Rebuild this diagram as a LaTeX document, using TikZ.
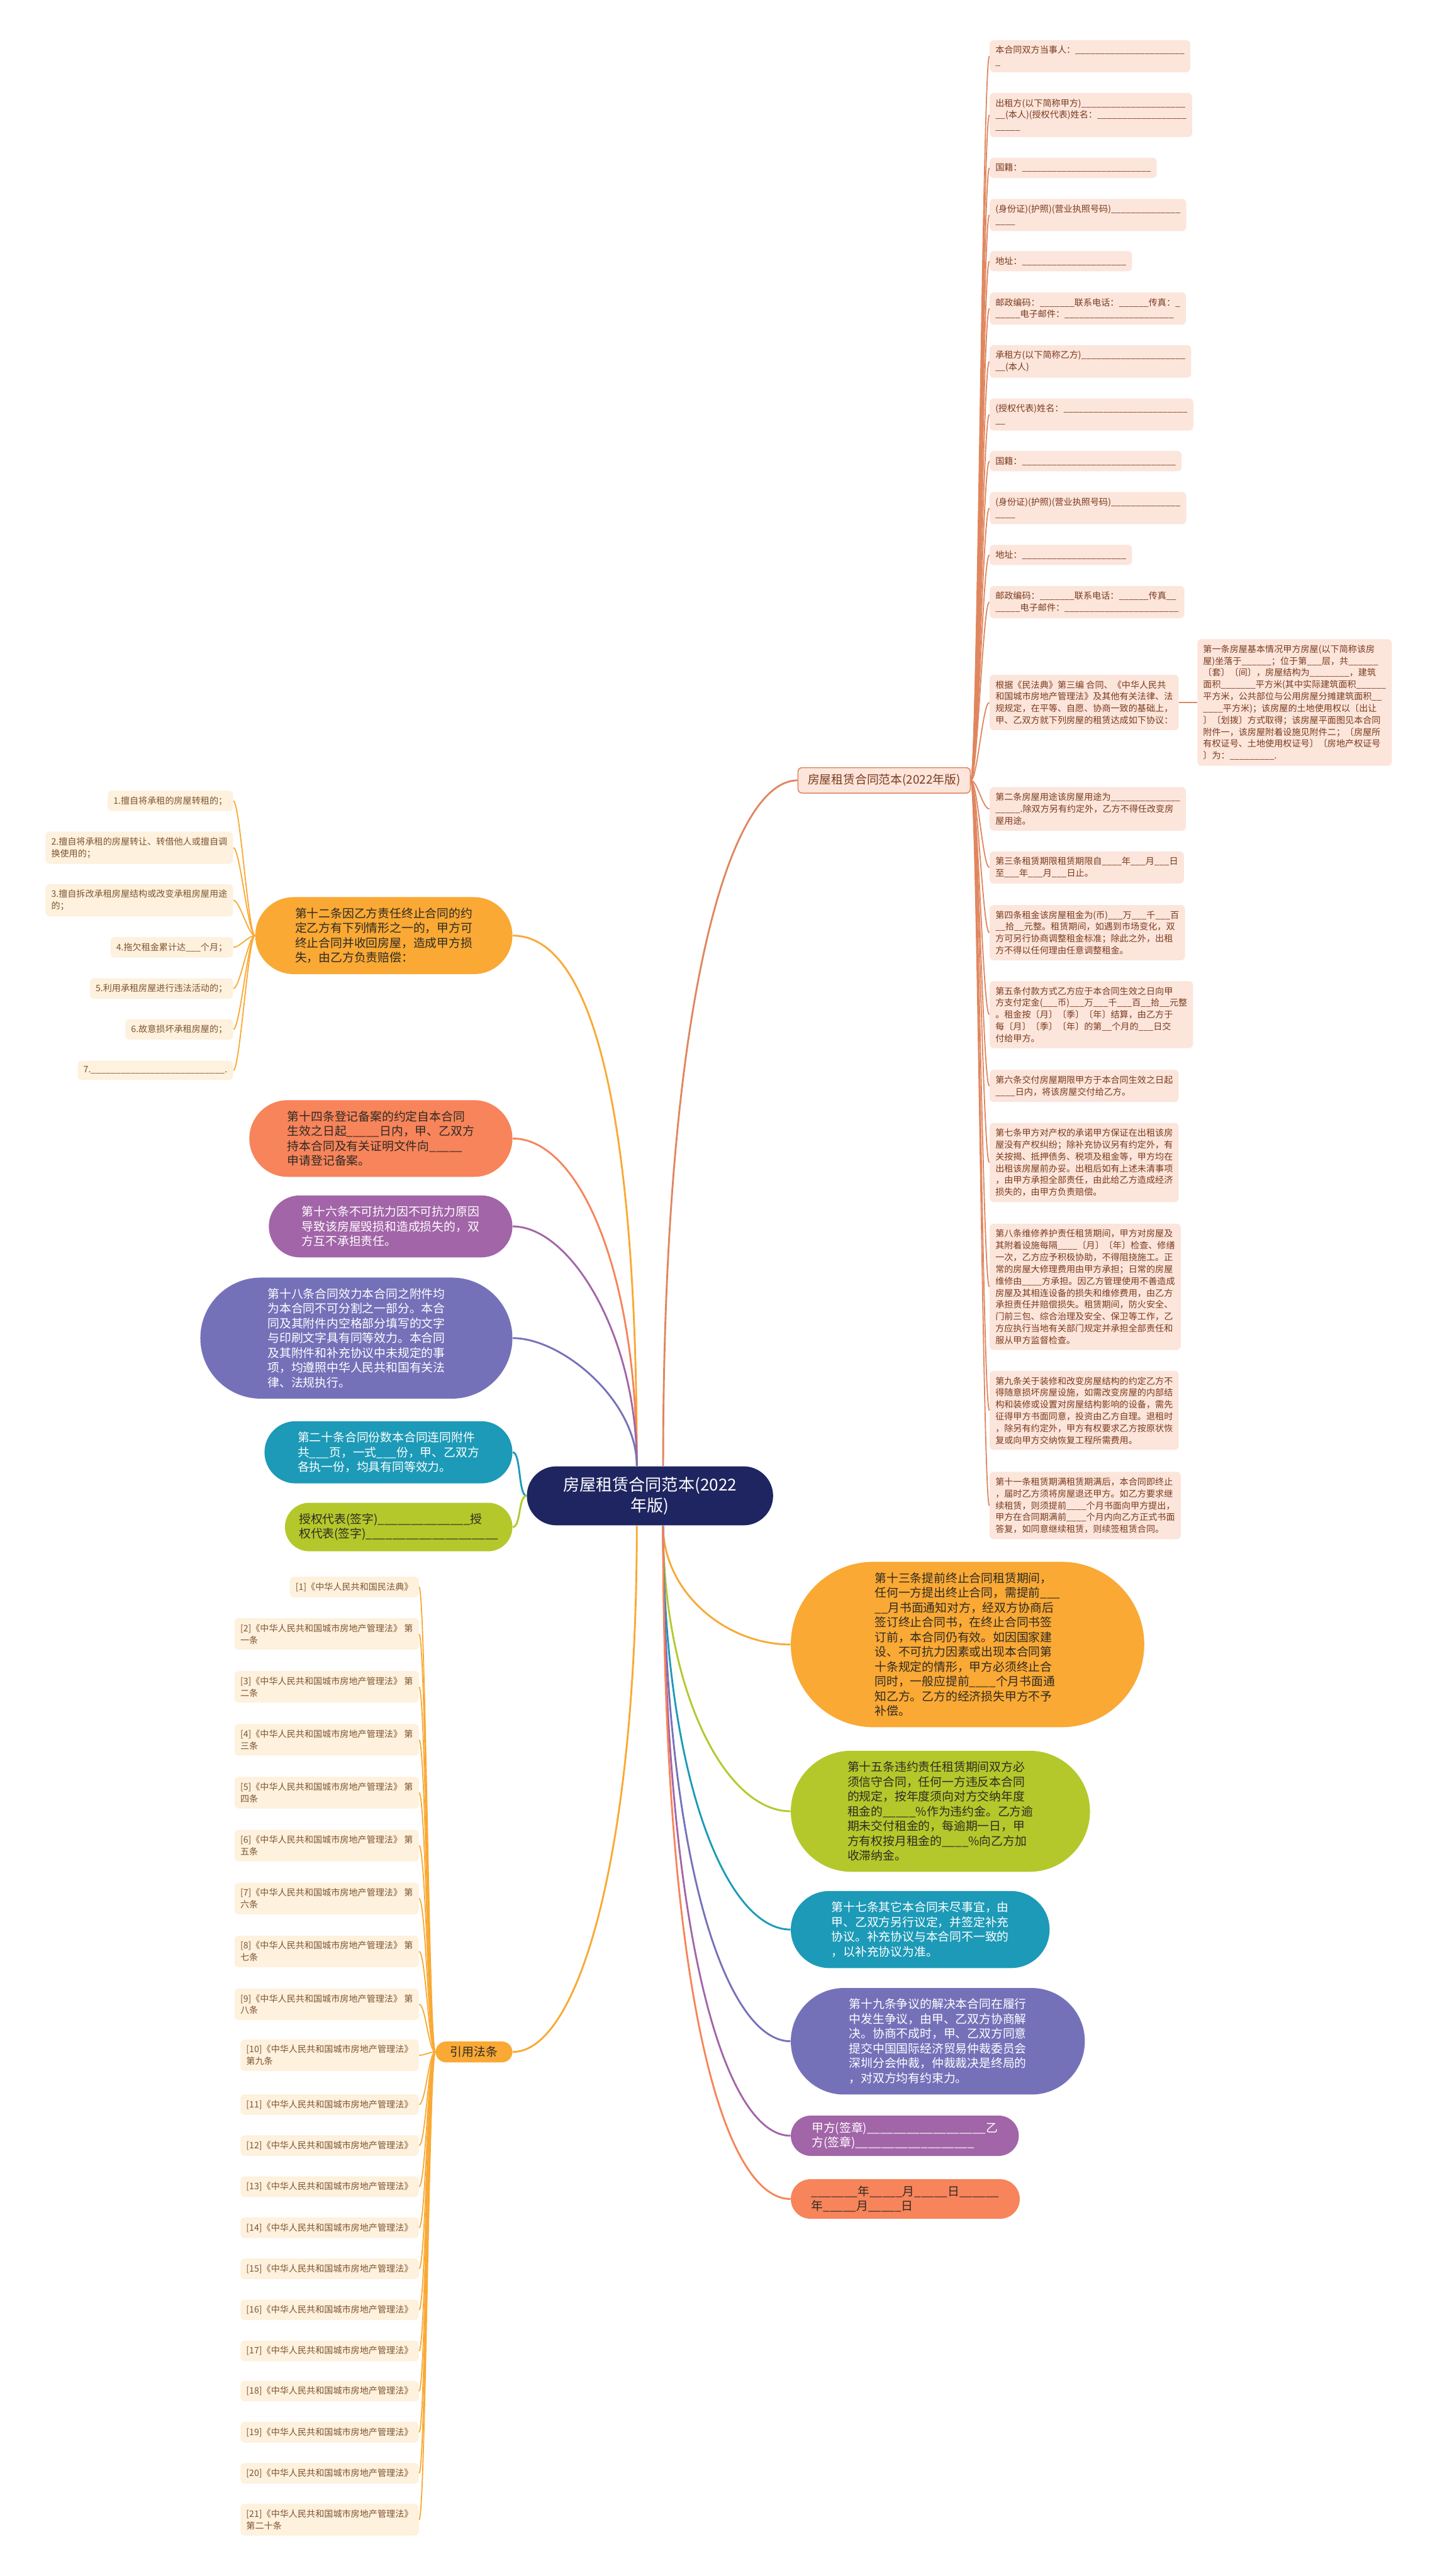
\documentclass[tikz,border=0pt]{standalone}
\usepackage{fontspec}
\setmainfont{Noto Sans CJK SC}
\usetikzlibrary{positioning, shapes.misc}

\definecolor{hub}{HTML}{1F2560}
\definecolor{amber}{HTML}{F9A934}
\definecolor{coral}{HTML}{F7845A}
\definecolor{plum}{HTML}{A265A8}
\definecolor{slate}{HTML}{7571B9}
\definecolor{cteal}{HTML}{1C9AB7}
\definecolor{lime}{HTML}{B4C82B}
\definecolor{rust}{HTML}{E0865F}
\definecolor{ink}{HTML}{2E2A25}
\definecolor{leafbg}{HTML}{FCE5DB}
\definecolor{leaftx}{HTML}{7A3B1F}
\definecolor{refbg}{HTML}{FEF1DD}
\definecolor{reftx}{HTML}{7D5431}

\newcommand\fsleaf{\fontsize{5.4}{7.2}\selectfont}
\newcommand\fsmid{\fontsize{7.2}{8.6}\selectfont}
\newcommand\fsbig{\fontsize{7.2}{9}\selectfont}
\newcommand\fshub{\fontsize{10}{12.5}\selectfont}
\newcommand\blank[1]{\foreach\k in {1,...,#1}{\_}}

\begin{document}
\begin{tikzpicture}[x=1pt, y=-1pt,
  leaf/.style={fill=leafbg, text=leaftx, font=\fsleaf, align=left,
    rounded corners=2.5pt, inner sep=3.5pt, anchor=west},
  cite/.style={leaf, fill=refbg, text=reftx, anchor=east},
  topic/.style={rounded rectangle, font=\fsbig, align=left,
    inner xsep=15pt, inner ysep=6.5pt},
  bough/.style={line width=1.1pt},
  twig/.style={line width=0.7pt, draw=#1, out=0, in=180, max distance=4pt},
  twigl/.style={line width=0.7pt, draw=#1, out=180, in=0, max distance=4pt}]

\fill[white] (0,0) rectangle (873,1568);

% 中心主题
\node[topic, fill=hub, text=white, font=\fshub, align=center, inner xsep=18pt] (root) at (395.5,910.5)
  {房屋租赁合同范本(2022\\年版)};

% 右上: 合同正文
\node[leaf, draw=rust, line width=0.6pt, font=\fsmid, inner xsep=6pt, inner ysep=4pt, anchor=center] (body) at (538,475)
  {房屋租赁合同范本(2022年版)};
\node[leaf] (b1) at (602,34.2) {本合同双方当事人：\blank{22}\\\_};
\node[leaf] (b2) at (602,70) {出租方(以下简称甲方)\blank{21}\\\blank{2}(本人)(授权代表)姓名：\blank{18}\\\blank{5}};
\node[leaf] (b3) at (602,102.2) {国籍：\blank{26}};
\node[leaf] (b4) at (602,130.9) {(身份证)(护照)(营业执照号码)\blank{14}\\\blank{4}};
\node[leaf] (b5) at (602,159) {地址：\blank{21}};
\node[leaf] (b6) at (602,187.8) {邮政编码：\blank{7}联系电话：\blank{6}传真：\_\\\blank{5}电子邮件：\blank{22}};
\node[leaf] (b7) at (602,220) {承租方(以下简称乙方)\blank{21}\\\blank{2}(本人)};
\node[leaf] (b8) at (602,252.3) {(授权代表)姓名：\blank{25}\\\blank{2}};
\node[leaf] (b9) at (602,280.7) {国籍：\blank{31}};
\node[leaf] (b10) at (602,309.3) {(身份证)(护照)(营业执照号码)\blank{14}\\\blank{4}};
\node[leaf] (b11) at (602,337.8) {地址：\blank{21}};
\node[leaf] (b12) at (602,366.5) {邮政编码：\blank{7}联系电话：\blank{6}传真\blank{2}\\\blank{5}电子邮件：\blank{23}};
\node[leaf] (b13) at (602,427.6) {根据《民法典》第三编 合同、《中华人民共\\和国城市房地产管理法》及其他有关法律、法\\规规定，在平等、自愿、协商一致的基础上，\\甲、乙双方就下列房屋的租赁达成如下协议：};
\node[leaf, right=11pt of b13] (a1) {第一条房屋基本情况甲方房屋(以下简称该房\\屋)坐落于\blank{6}；位于第\blank{3}层，共\blank{6}\\〔套〕〔间〕，房屋结构为\blank{8}，建筑\\面积\blank{7}平方米(其中实际建筑面积\blank{6}\\平方米，公共部位与公用房屋分摊建筑面积\blank{2}\\\blank{4}平方米)；该房屋的土地使用权以〔出让\\〕〔划拨〕方式取得；该房屋平面图见本合同\\附件一，该房屋附着设施见附件二；〔房屋所\\有权证号、土地使用权证号〕〔房地产权证号\\〕为：\blank{9}.};
\node[leaf] (b14) at (602,492.4) {第二条房屋用途该房屋用途为\blank{14}\\\blank{5}.除双方另有约定外，乙方不得任改变房\\屋用途。};
\node[leaf] (b15) at (602,528) {第三条租赁期限租赁期限自\blank{4}年\blank{3}月\blank{3}日\\至\blank{3}年\blank{3}月\blank{3}日止。};
\node[leaf] (b16) at (602,567.7) {第四条租金该房屋租金为(币)\blank{3}万\blank{3}千\blank{3}百\\\blank{2}拾\blank{2}元整。租赁期间，如遇到市场变化，双\\方可另行协商调整租金标准；除此之外，出租\\方不得以任何理由任意调整租金。};
\node[leaf] (b17) at (602,617.6) {第五条付款方式乙方应于本合同生效之日向甲\\方支付定金(\blank{3}币)\blank{3}万\blank{3}千\blank{3}百\blank{2}拾\blank{2}元整\\。租金按〔月〕〔季〕〔年〕结算，由乙方于\\每〔月〕〔季〕〔年〕的第\blank{2}个月的\blank{3}日交\\付给甲方。};
\node[leaf] (b18) at (602,661) {第六条交付房屋期限甲方于本合同生效之日起\\\blank{4}日内，将该房屋交付给乙方。};
\node[leaf] (b19) at (602,707.6) {第七条甲方对产权的承诺甲方保证在出租该房\\屋没有产权纠纷；除补充协议另有约定外，有\\关按揭、抵押债务、税项及租金等，甲方均在\\出租该房屋前办妥。出租后如有上述未清事项\\，由甲方承担全部责任，由此给乙方造成经济\\损失的，由甲方负责赔偿。};
\node[leaf] (b20) at (602,783.3) {第八条维修养护责任租赁期间，甲方对房屋及\\其附着设施每隔\blank{4}〔月〕〔年〕检查、修缮\\一次，乙方应予积极协助，不得阻挠施工。正\\常的房屋大修理费用由甲方承担；日常的房屋\\维修由\blank{4}方承担。因乙方管理使用不善造成\\房屋及其相连设备的损失和维修费用，由乙方\\承担责任并赔偿损失。租赁期间，防火安全、\\门前三包、综合治理及安全、保卫等工作，乙\\方应执行当地有关部门规定并承担全部责任和\\服从甲方监督检查。};
\node[leaf] (b21) at (602,858.5) {第九条关于装修和改变房屋结构的约定乙方不\\得随意损坏房屋设施，如需改变房屋的内部结\\构和装修或设置对房屋结构影响的设备，需先\\征得甲方书面同意，投资由乙方自理。退租时\\，除另有约定外，甲方有权要求乙方按原状恢\\复或向甲方交纳恢复工程所需费用。};
\node[leaf] (b22) at (602,916.4) {第十一条租赁期满租赁期满后，本合同即终止\\，届时乙方须将房屋退还甲方。如乙方要求继\\续租赁，则须提前\blank{4}个月书面向甲方提出，\\甲方在合同期满前\blank{4}个月内向乙方正式书面\\答复，如同意继续租赁，则续签租赁合同。};

% 左侧主题
\node[topic, fill=amber, text=ink, inner xsep=17pt, anchor=east] (n12) at (312,569.5) {第十二条因乙方责任终止合同的约\\定乙方有下列情形之一的，甲方可\\终止合同并收回房屋，造成甲方损\\失，由乙方负责赔偿：};
\node[cite] (t1) at (142,487.5) {1.擅自将承租的房屋转租的；};
\node[cite] (t2) at (142,516) {2.擅自将承租的房屋转让、转借他人或擅自调\\换使用的；};
\node[cite] (t3) at (142,548) {3.擅自拆改承租房屋结构或改变承租房屋用途\\的；};
\node[cite] (t4) at (142,576.6) {4.拖欠租金累计达\blank{3}个月；};
\node[cite] (t5) at (142,601.7) {5.利用承租房屋进行违法活动的；};
\node[cite] (t6) at (142,626.6) {6.故意损坏承租房屋的；};
\node[cite] (t7) at (142,651.5) {7.\blank{27}.};
\node[topic, fill=coral, text=ink, inner xsep=16pt, anchor=east] (n14) at (312,693) {第十四条登记备案的约定自本合同\\生效之日起\blank{5}日内，甲、乙双方\\持本合同及有关证明文件向\blank{5}\\申请登记备案。};
\node[topic, fill=plum, text=white, inner xsep=15.5pt, anchor=east] (n16) at (312,746.5) {第十六条不可抗力因不可抗力原因\\导致该房屋毁损和造成损失的，双\\方互不承担责任。};
\node[topic, fill=slate, text=white, inner xsep=25pt, anchor=east] (n18) at (312,814.5) {第十八条合同效力本合同之附件均\\为本合同不可分割之一部分。本合\\同及其附件内空格部分填写的文字\\与印刷文字具有同等效力。本合同\\及其附件和补充协议中未规定的事\\项，均遵照中华人民共和国有关法\\律、法规执行。};
\node[topic, fill=cteal, text=white, inner xsep=15.5pt, anchor=east] (n20) at (312,884) {第二十条合同份数本合同连同附件\\共\blank{3}页，一式\blank{3}份，甲、乙双方\\各执一份，均具有同等效力。};
\node[topic, fill=lime, text=ink, inner xsep=6pt, anchor=east] (sign) at (312,929.5) {授权代表(签字)\blank{14}授\\权代表(签字)\blank{20}};

% 引用法条
\node[topic, fill=amber, text=ink, inner xsep=8pt, inner ysep=3pt, anchor=east] (law) at (312,1249) {引用法条};
\node[cite] (r1) at (255,966) {[1]《中华人民共和国民法典》};
\node[cite] (r2) at (255,994.6) {[2]《中华人民共和国城市房地产管理法》 第\\一条};
\node[cite] (r3) at (255,1026.8) {[3]《中华人民共和国城市房地产管理法》 第\\二条};
\node[cite] (r4) at (255,1059) {[4]《中华人民共和国城市房地产管理法》 第\\三条};
\node[cite] (r5) at (255,1091.2) {[5]《中华人民共和国城市房地产管理法》 第\\四条};
\node[cite] (r6) at (255,1123.4) {[6]《中华人民共和国城市房地产管理法》 第\\五条};
\node[cite] (r7) at (255,1155.6) {[7]《中华人民共和国城市房地产管理法》 第\\六条};
\node[cite] (r8) at (255,1187.8) {[8]《中华人民共和国城市房地产管理法》 第\\七条};
\node[cite] (r9) at (255,1220) {[9]《中华人民共和国城市房地产管理法》 第\\八条};
\node[cite] (r10) at (255,1251) {[10]《中华人民共和国城市房地产管理法》\\第九条};
\node[cite] (r11) at (255,1281) {[11]《中华人民共和国城市房地产管理法》};
\node[cite] (r12) at (255,1306) {[12]《中华人民共和国城市房地产管理法》};
\node[cite] (r13) at (255,1331) {[13]《中华人民共和国城市房地产管理法》};
\node[cite] (r14) at (255,1356) {[14]《中华人民共和国城市房地产管理法》};
\node[cite] (r15) at (255,1381) {[15]《中华人民共和国城市房地产管理法》};
\node[cite] (r16) at (255,1406) {[16]《中华人民共和国城市房地产管理法》};
\node[cite] (r17) at (255,1431) {[17]《中华人民共和国城市房地产管理法》};
\node[cite] (r18) at (255,1455.5) {[18]《中华人民共和国城市房地产管理法》};
\node[cite] (r19) at (255,1480.5) {[19]《中华人民共和国城市房地产管理法》};
\node[cite] (r20) at (255,1505.5) {[20]《中华人民共和国城市房地产管理法》};
\node[cite] (r21) at (255,1533.7) {[21]《中华人民共和国城市房地产管理法》\\第二十条};

% 右下主题
\node[topic, fill=amber, text=ink, inner xsep=25.5pt, anchor=west] (n13) at (481,1001) {第十三条提前终止合同租赁期间，\\任何一方提出终止合同，需提前\blank{3}\\\blank{2}月书面通知对方，经双方协商后\\签订终止合同书，在终止合同书签\\订前，本合同仍有效。如因国家建\\设、不可抗力因素或出现本合同第\\十条规定的情形，甲方必须终止合\\同时，一般应提前\blank{4}个月书面通\\知乙方。乙方的经济损失甲方不予\\补偿。};
\node[topic, fill=lime, text=ink, inner xsep=18.5pt, anchor=west] (n15) at (481,1102.5) {第十五条违约责任租赁期间双方必\\须信守合同，任何一方违反本合同\\的规定，按年度须向对方交纳年度\\租金的\blank{5}\%作为违约金。乙方逾\\期未交付租金的，每逾期一日，甲\\方有权按月租金的\blank{4}\%向乙方加\\收滞纳金。};
\node[topic, fill=cteal, text=white, inner xsep=17.5pt, anchor=west] (n17) at (481,1174.5) {第十七条其它本合同未尽事宜，由\\甲、乙双方另行议定，并签定补充\\协议。补充协议与本合同不一致的\\，以补充协议为准。};
\node[topic, fill=slate, text=white, inner xsep=22.5pt, anchor=west] (n19) at (481,1242.5) {第十九条争议的解决本合同在履行\\中发生争议，由甲、乙双方协商解\\决。协商不成时，甲、乙双方同意\\提交中国国际经济贸易仲裁委员会\\深圳分会仲裁，仲裁裁决是终局的\\，对双方均有约束力。};
\node[topic, fill=plum, text=white, inner xsep=9.5pt, inner ysep=4pt, anchor=west] (seal) at (481,1300) {甲方(签章)\blank{18}乙\\方(签章)\blank{18}};
\node[topic, fill=coral, text=ink, inner xsep=9.5pt, inner ysep=4pt, anchor=west] (date) at (481,1338.5) {\blank{7}年\blank{5}月\blank{5}日\blank{6}\\年\blank{5}月\blank{5}日};

% 主干连线
\draw[bough, rust] ([xshift=8pt]root.north) .. controls +(0,-290) and +(-40,0) .. (body.west);
\draw[bough, amber] ([xshift=-8pt]root.north) .. controls +(0,-230) and +(45,0) .. (n12.east);
\draw[bough, coral] ([xshift=-8pt]root.north) .. controls +(0,-120) and +(40,0) .. (n14.east);
\draw[bough, plum] ([xshift=-8pt]root.north) .. controls +(0,-80) and +(35,0) .. (n16.east);
\draw[bough, slate] ([xshift=-8pt]root.north) .. controls +(0,-40) and +(30,0) .. (n18.east);
\draw[bough, cteal] (root.west) .. controls +(-5,0) and +(5,0) .. (n20.east);
\draw[bough, lime] (root.west) .. controls +(-5,0) and +(5,0) .. (sign.east);
\draw[bough, amber] ([xshift=-8pt]root.south) .. controls +(0,200) and +(40,0) .. (law.east);
\draw[bough, amber] ([xshift=8pt]root.south) .. controls +(0,40) and +(-40,0) .. (n13.west);
\draw[bough, lime] ([xshift=8pt]root.south) .. controls +(0,100) and +(-40,0) .. (n15.west);
\draw[bough, cteal] ([xshift=8pt]root.south) .. controls +(0,150) and +(-40,0) .. (n17.west);
\draw[bough, slate] ([xshift=8pt]root.south) .. controls +(0,200) and +(-40,0) .. (n19.west);
\draw[bough, plum] ([xshift=8pt]root.south) .. controls +(0,250) and +(-40,0) .. (seal.west);
\draw[bough, coral] ([xshift=8pt]root.south) .. controls +(0,290) and +(-40,0) .. (date.west);

% 分支连线
\path (body.east)
  edge[twig=rust] (b1.west) edge[twig=rust] (b2.west) edge[twig=rust] (b3.west)
  edge[twig=rust] (b4.west) edge[twig=rust] (b5.west) edge[twig=rust] (b6.west)
  edge[twig=rust] (b7.west) edge[twig=rust] (b8.west) edge[twig=rust] (b9.west)
  edge[twig=rust] (b10.west) edge[twig=rust] (b11.west) edge[twig=rust] (b12.west)
  edge[twig=rust] (b13.west) edge[twig=rust] (b14.west) edge[twig=rust] (b15.west)
  edge[twig=rust] (b16.west) edge[twig=rust] (b17.west) edge[twig=rust] (b18.west)
  edge[twig=rust] (b19.west) edge[twig=rust] (b20.west) edge[twig=rust] (b21.west)
  edge[twig=rust] (b22.west);
\draw[line width=0.7pt, rust] (b13.east) -- (a1.west);
\path (n12.west)
  edge[twigl=amber] (t1.east) edge[twigl=amber] (t2.east) edge[twigl=amber] (t3.east)
  edge[twigl=amber] (t4.east) edge[twigl=amber] (t5.east) edge[twigl=amber] (t6.east)
  edge[twigl=amber] (t7.east);
\path (law.west)
  edge[twigl=amber] (r1.east) edge[twigl=amber] (r2.east) edge[twigl=amber] (r3.east)
  edge[twigl=amber] (r4.east) edge[twigl=amber] (r5.east) edge[twigl=amber] (r6.east)
  edge[twigl=amber] (r7.east) edge[twigl=amber] (r8.east) edge[twigl=amber] (r9.east)
  edge[twigl=amber] (r10.east) edge[twigl=amber] (r11.east) edge[twigl=amber] (r12.east)
  edge[twigl=amber] (r13.east) edge[twigl=amber] (r14.east) edge[twigl=amber] (r15.east)
  edge[twigl=amber] (r16.east) edge[twigl=amber] (r17.east) edge[twigl=amber] (r18.east)
  edge[twigl=amber] (r19.east) edge[twigl=amber] (r20.east) edge[twigl=amber] (r21.east);
\end{tikzpicture}
\end{document}
